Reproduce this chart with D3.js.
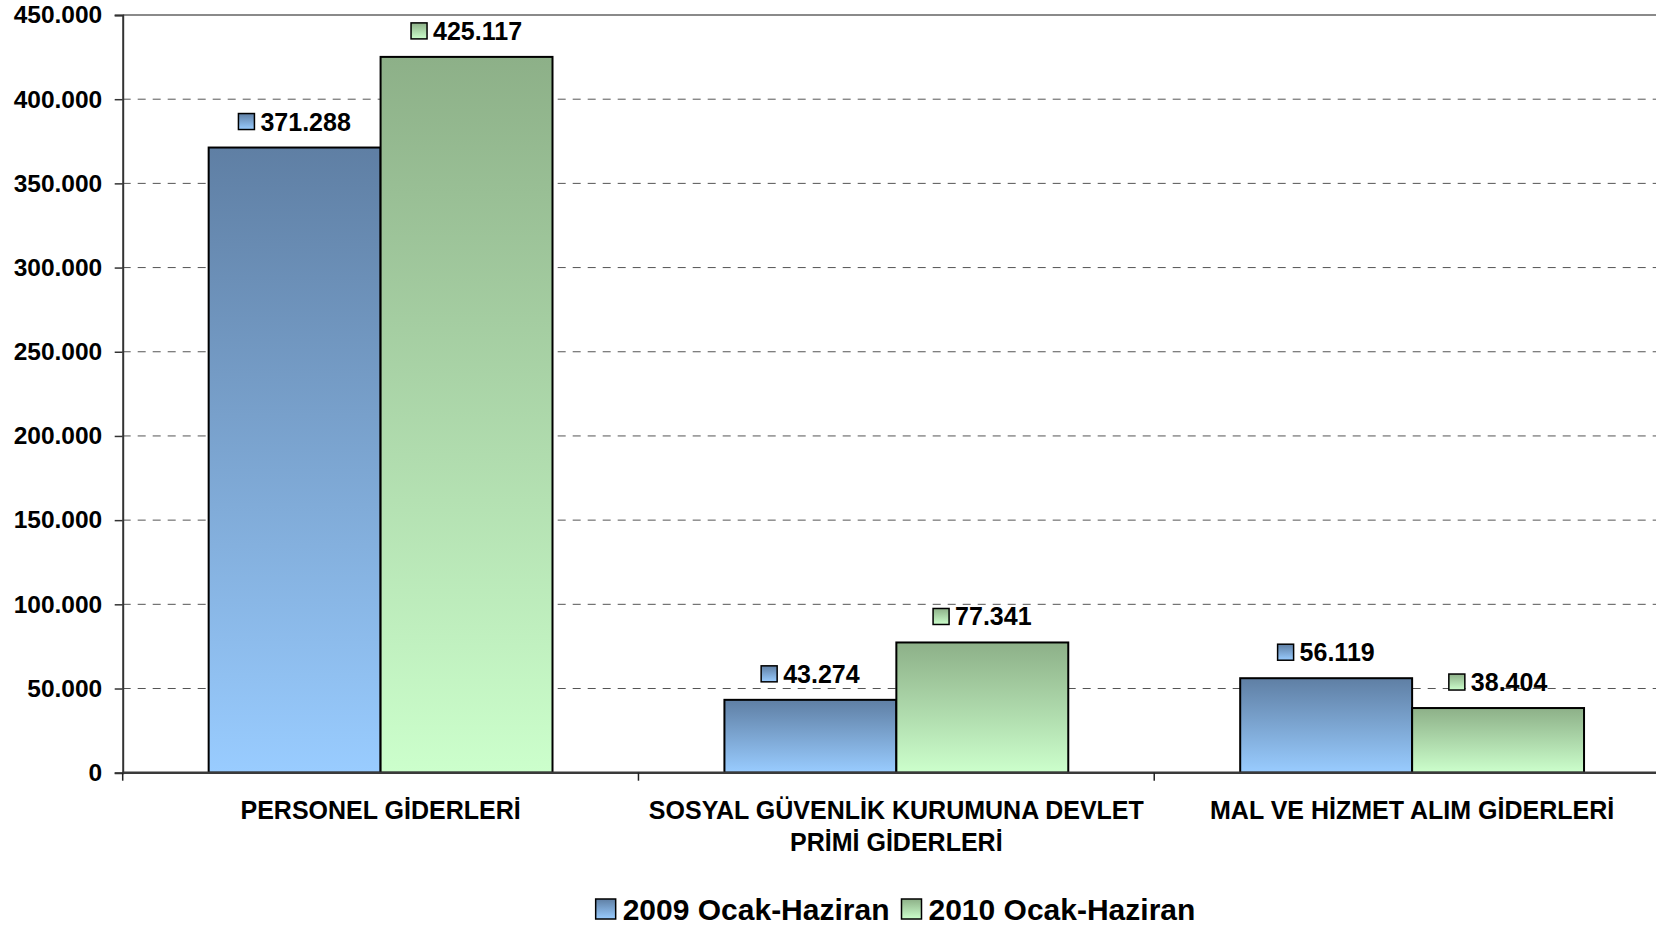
<!DOCTYPE html>
<html>
<head>
<meta charset="utf-8">
<script src="https://cdn.jsdelivr.net/npm/d3@7"></script>
<style>
    body { margin: 0; background: #fff; }
    svg { display: block; font-family: 'Liberation Sans', Arial, sans-serif; font-weight: bold; }
</style>
</head>
<body>
<svg id="chart" width="1656" height="925"></svg>
<script>
const categories = ['PERSONEL GİDERLERİ', 'SOSYAL GÜVENLİK KURUMUNA DEVLET PRİMİ GİDERLERİ', 'MAL VE HİZMET ALIM GİDERLERİ'];
const categoryLines = [['PERSONEL GİDERLERİ'], ['SOSYAL GÜVENLİK KURUMUNA DEVLET', 'PRİMİ GİDERLERİ'], ['MAL VE HİZMET ALIM GİDERLERİ']];
const seriesNames = ['2009 Ocak-Haziran', '2010 Ocak-Haziran'];
const values2009 = [371288, 43274, 56119];
const values2010 = [425117, 77341, 38404];
const yTicks = [0, 50000, 100000, 150000, 200000, 250000, 300000, 350000, 400000, 450000];

const chart = (() => {
    const svg = d3.select('#chart');
    const left = 122.7, right = 1670, top = 15, bottom = 772.7;

    const locale = d3.formatLocale({decimal: ',', thousands: '.', grouping: [3], currency: ['', '']});
    const fmt = locale.format(',d');

    const x0 = d3.scaleBand().domain(categories).range([left, right]).padding(0);
    const x1 = d3.scaleBand().domain(seriesNames).range([0, x0.bandwidth()]).paddingInner(0).paddingOuter(0.5);
    const y = d3.scaleLinear().domain([0, 450000]).range([bottom, top]);

    const colors = {
        '2009 Ocak-Haziran': ['#5f7fa4', '#99ccff'],
        '2010 Ocak-Haziran': ['#8db088', '#ccffcc']
    };

    //gradients, dark on top
    const defs = svg.append('defs');
    seriesNames.forEach((s, i) => {
        const g = defs.append('linearGradient').attr('id', 'grad' + i)
            .attr('x1', 0).attr('y1', 0).attr('x2', 0).attr('y2', 1);
        g.append('stop').attr('offset', '0%').attr('stop-color', colors[s][0]);
        g.append('stop').attr('offset', '100%').attr('stop-color', colors[s][1]);
    });

    // gridlines
    svg.append('g').selectAll('line').data(yTicks.filter((t) => t > 0 && t < 450000))
        .enter().append('line')
        .attr('x1', left).attr('x2', right)
        .attr('y1', (d) => y(d)).attr('y2', (d) => y(d))
        .attr('stroke', '#555').attr('stroke-width', 1).attr('stroke-dasharray', '8,7');

    svg.append('line')
        .attr('x1', left).attr('x2', right).attr('y1', y(450000)).attr('y2', y(450000))
        .attr('stroke', '#8a8a8a').attr('stroke-width', 2);

    // bars
    const rows = categories.map((c, i) => ({cat: c, vals: [values2009[i], values2010[i]]}));
    const groups = svg.append('g').selectAll('.cat').data(rows).enter().append('g')
        .attr('class', 'cat')
        .attr('transform', (d) => 'translate(' + x0(d.cat) + ',0)');

    groups.selectAll('rect').data((d) => d.vals.map((v, i) => ({s: seriesNames[i], i: i, v: v})))
        .enter().append('rect')
        .attr('x', (d) => x1(d.s))
        .attr('y', (d) => y(d.v))
        .attr('width', x1.bandwidth())
        .attr('height', (d) => y(0) - y(d.v))
        .attr('fill', (d) => 'url(#grad' + d.i + ')')
        .attr('stroke', '#000').attr('stroke-width', 2);

    // y axis
    const yAxis = svg.append('g').attr('transform', 'translate(' + left + ',0)')
        .call(d3.axisLeft(y).tickValues(yTicks).tickSize(8).tickPadding(12.5).tickFormat(fmt));
    yAxis.select('.domain').attr('stroke', '#333').attr('stroke-width', 2);
    yAxis.selectAll('.tick line').attr('stroke', '#333').attr('stroke-width', 1.5);
    yAxis.selectAll('.tick text').attr('fill', '#000').attr('font-size', 24.5)
        .attr('font-family', "'Liberation Sans', Arial, sans-serif").attr('font-weight', 'bold');

    // x axis baseline and boundary ticks
    svg.append('line').attr('x1', left).attr('x2', right).attr('y1', y(0)).attr('y2', y(0))
        .attr('stroke', '#3a3a3a').attr('stroke-width', 2.5);
    const bounds = categories.map((c) => x0(c)).concat([x0.range()[1]]);
    svg.append('g').selectAll('line').data(bounds).enter().append('line')
        .attr('x1', (d) => d).attr('x2', (d) => d)
        .attr('y1', y(0)).attr('y2', y(0) + 8)
        .attr('stroke', '#222').attr('stroke-width', 1.5);

    // category labels
    const catText = svg.append('g').selectAll('text').data(categories).enter().append('text')
        .attr('text-anchor', 'middle').attr('font-size', 25)
        .attr('x', (d) => x0(d) + x0.bandwidth() / 2)
        .attr('y', 819);
    catText.selectAll('tspan').data((d, i) => categoryLines[i]).enter().append('tspan')
        .attr('x', function () { return d3.select(this.parentNode).attr('x'); })
        .attr('dy', (d, i) => i === 0 ? 0 : 32)
        .text((d) => d);

    // data labels with legend keys
    groups.each(function (row) {
        const g = d3.select(this);
        row.vals.forEach((v, i) => {
            const s = seriesNames[i];
            const cx = x1(s) + x1.bandwidth() / 2;
            const cy = y(v) - 26;
            const lbl = g.append('g');
            const t = lbl.append('text').attr('font-size', 25).attr('dominant-baseline', 'central')
                .attr('y', cy).text(fmt(v));
            const tw = t.node().getComputedTextLength();
            const w = 16 + 6 + tw;
            const x = cx - w / 2;
            lbl.append('rect').attr('x', x).attr('y', cy - 8).attr('width', 16).attr('height', 16)
                .attr('fill', 'url(#grad' + i + ')').attr('stroke', '#000').attr('stroke-width', 1.5);
            t.attr('x', x + 22);
        });
    });

    // legend
    const legend = svg.append('g');
    let lx = 0;
    seriesNames.forEach((s, i) => {
        const item = legend.append('g').attr('transform', 'translate(' + lx + ',0)');
        item.append('rect').attr('x', 0).attr('y', -10).attr('width', 20).attr('height', 20)
            .attr('fill', 'url(#grad' + i + ')').attr('stroke', '#000').attr('stroke-width', 1.5);
        const t = item.append('text').attr('x', 27).attr('y', 0).attr('dominant-baseline', 'central')
            .attr('font-size', 30).text(s);
        lx += 27 + t.node().getComputedTextLength() + 12;
    });
    const lw = lx - 12;
    legend.attr('transform', 'translate(' + (895.5 - lw / 2) + ',909)');

    return {x0, x1, y};
})();
</script>
</body>
</html>
